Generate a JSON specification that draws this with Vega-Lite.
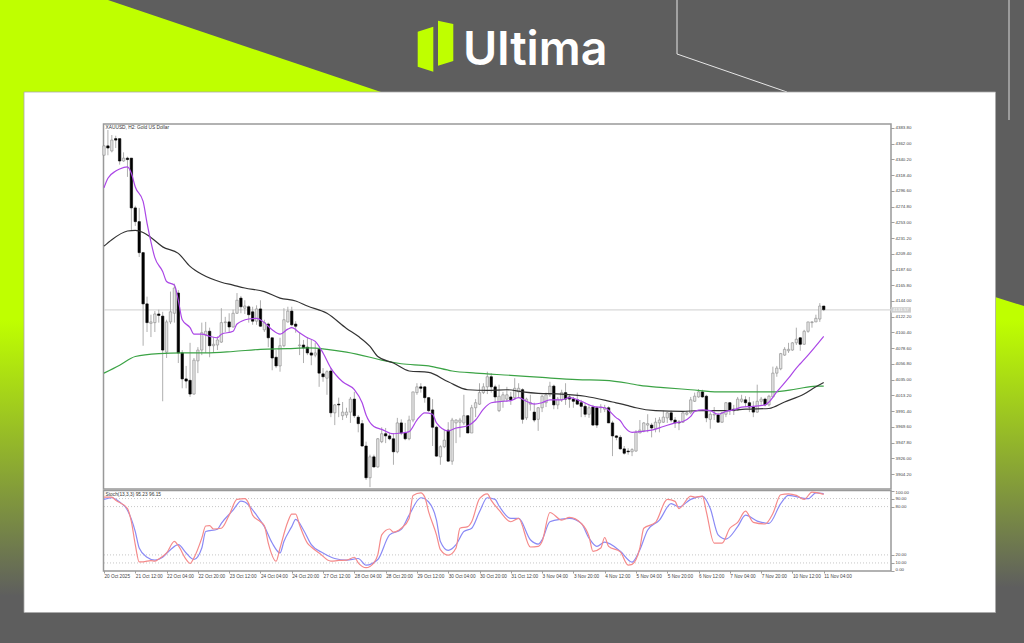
{"$schema":"https://vega.github.io/schema/vega-lite/v6.json","width":1024,"height":643,"autosize":{"type":"none"},"padding":0,"background":"#5e5e5e",
"config":{"view":{"stroke":null},"axis":{"title":null,"grid":false,"domain":false,"labelFont":"Liberation Sans","labelColor":"#444444","tickColor":"#777777","tickSize":3,"tickWidth":0.7}},
"datasets":{
"candles":[{"i":0,"o":4346,"h":4360,"l":4346,"c":4359},{"i":1,"o":4359,"h":4381,"l":4346,"c":4356},{"i":2,"o":4352,"h":4374,"l":4350,"c":4367},{"i":3,"o":4369,"h":4373,"l":4356,"c":4367},{"i":4,"o":4369,"h":4369,"l":4333,"c":4338},{"i":5,"o":4338,"h":4350,"l":4337,"c":4342},{"i":6,"o":4342,"h":4344,"l":4316,"c":4340},{"i":7,"o":4342,"h":4342,"l":4242,"c":4273},{"i":8,"o":4273,"h":4276,"l":4248,"c":4254},{"i":9,"o":4254,"h":4273,"l":4205,"c":4211},{"i":10,"o":4211,"h":4212,"l":4082,"c":4140},{"i":11,"o":4140,"h":4150,"l":4101,"c":4114},{"i":12,"o":4113,"h":4125,"l":4094,"c":4115},{"i":13,"o":4114,"h":4130,"l":4101,"c":4126},{"i":14,"o":4126,"h":4132,"l":4114,"c":4124},{"i":15,"o":4123,"h":4129,"l":4005,"c":4076},{"i":16,"o":4073,"h":4118,"l":4065,"c":4115},{"i":17,"o":4115,"h":4157,"l":4112,"c":4129},{"i":18,"o":4127,"h":4168,"l":4114,"c":4162},{"i":19,"o":4155,"h":4159,"l":4058,"c":4072},{"i":20,"o":4072,"h":4076,"l":4023,"c":4036},{"i":21,"o":4036,"h":4054,"l":4023,"c":4033},{"i":22,"o":4034,"h":4086,"l":4011,"c":4015},{"i":23,"o":4015,"h":4065,"l":4014,"c":4062},{"i":24,"o":4061,"h":4080,"l":4044,"c":4076},{"i":25,"o":4076,"h":4114,"l":4069,"c":4100},{"i":26,"o":4097,"h":4115,"l":4072,"c":4102},{"i":27,"o":4102,"h":4107,"l":4066,"c":4082},{"i":28,"o":4082,"h":4094,"l":4072,"c":4084},{"i":29,"o":4083,"h":4095,"l":4076,"c":4090},{"i":30,"o":4087,"h":4134,"l":4086,"c":4114},{"i":31,"o":4114,"h":4122,"l":4101,"c":4115},{"i":32,"o":4115,"h":4127,"l":4100,"c":4108},{"i":33,"o":4108,"h":4132,"l":4107,"c":4127},{"i":34,"o":4127,"h":4155,"l":4126,"c":4145},{"i":35,"o":4148,"h":4151,"l":4127,"c":4136},{"i":36,"o":4134,"h":4145,"l":4126,"c":4137},{"i":37,"o":4136,"h":4138,"l":4114,"c":4125},{"i":38,"o":4129,"h":4136,"l":4111,"c":4116},{"i":39,"o":4116,"h":4138,"l":4111,"c":4133},{"i":40,"o":4133,"h":4145,"l":4108,"c":4109},{"i":41,"o":4104,"h":4118,"l":4101,"c":4114},{"i":42,"o":4112,"h":4114,"l":4080,"c":4093},{"i":43,"o":4093,"h":4093,"l":4048,"c":4065},{"i":44,"o":4066,"h":4076,"l":4051,"c":4054},{"i":45,"o":4054,"h":4093,"l":4046,"c":4082},{"i":46,"o":4082,"h":4134,"l":4080,"c":4118},{"i":47,"o":4115,"h":4136,"l":4114,"c":4130},{"i":48,"o":4130,"h":4136,"l":4109,"c":4111},{"i":49,"o":4112,"h":4116,"l":4100,"c":4109},{"i":50,"o":4082,"h":4100,"l":4069,"c":4083},{"i":51,"o":4083,"h":4090,"l":4058,"c":4079},{"i":52,"o":4080,"h":4094,"l":4069,"c":4072},{"i":53,"o":4072,"h":4090,"l":4055,"c":4069},{"i":54,"o":4069,"h":4086,"l":4066,"c":4072},{"i":55,"o":4077,"h":4079,"l":4025,"c":4044},{"i":56,"o":4043,"h":4051,"l":4032,"c":4039},{"i":57,"o":4037,"h":4048,"l":4014,"c":4046},{"i":58,"o":4047,"h":4051,"l":3983,"c":3989},{"i":59,"o":3989,"h":4001,"l":3972,"c":4000},{"i":60,"o":4001,"h":4010,"l":3983,"c":4000},{"i":61,"o":3985,"h":4004,"l":3979,"c":3990},{"i":62,"o":3986,"h":3996,"l":3982,"c":3990},{"i":63,"o":3990,"h":4011,"l":3975,"c":4008},{"i":64,"o":4008,"h":4018,"l":3982,"c":3985},{"i":65,"o":3983,"h":3986,"l":3962,"c":3974},{"i":66,"o":3974,"h":3979,"l":3942,"c":3943},{"i":67,"o":3943,"h":3949,"l":3896,"c":3899},{"i":68,"o":3899,"h":3931,"l":3886,"c":3928},{"i":69,"o":3928,"h":3931,"l":3913,"c":3914},{"i":70,"o":3914,"h":3954,"l":3913,"c":3953},{"i":71,"o":3949,"h":3969,"l":3947,"c":3960},{"i":72,"o":3960,"h":3968,"l":3947,"c":3957},{"i":73,"o":3957,"h":3961,"l":3951,"c":3953},{"i":74,"o":3953,"h":3961,"l":3917,"c":3935},{"i":75,"o":3935,"h":3982,"l":3933,"c":3975},{"i":76,"o":3975,"h":3980,"l":3958,"c":3961},{"i":77,"o":3961,"h":3975,"l":3951,"c":3953},{"i":78,"o":3953,"h":3985,"l":3951,"c":3979},{"i":79,"o":3979,"h":4018,"l":3976,"c":4018},{"i":80,"o":4017,"h":4030,"l":4014,"c":4025},{"i":81,"o":4025,"h":4030,"l":4017,"c":4023},{"i":82,"o":4025,"h":4026,"l":4003,"c":4010},{"i":83,"o":4010,"h":4011,"l":3990,"c":3992},{"i":84,"o":3993,"h":4008,"l":3943,"c":3969},{"i":85,"o":3969,"h":3971,"l":3928,"c":3929},{"i":86,"o":3928,"h":3944,"l":3917,"c":3942},{"i":87,"o":3942,"h":3965,"l":3940,"c":3951},{"i":88,"o":3965,"h":3976,"l":3921,"c":3922},{"i":89,"o":3922,"h":3982,"l":3917,"c":3979},{"i":90,"o":3975,"h":3980,"l":3947,"c":3979},{"i":91,"o":3976,"h":3982,"l":3955,"c":3979},{"i":92,"o":3975,"h":4014,"l":3972,"c":3985},{"i":93,"o":3985,"h":3986,"l":3961,"c":3961},{"i":94,"o":3961,"h":4000,"l":3961,"c":3996},{"i":95,"o":3996,"h":4008,"l":3983,"c":4003},{"i":96,"o":4001,"h":4030,"l":4000,"c":4017},{"i":97,"o":4017,"h":4030,"l":4015,"c":4025},{"i":98,"o":4025,"h":4046,"l":4015,"c":4039},{"i":99,"o":4039,"h":4044,"l":4017,"c":4025},{"i":100,"o":4025,"h":4028,"l":4003,"c":4011},{"i":101,"o":3992,"h":4028,"l":3990,"c":4012},{"i":102,"o":4005,"h":4018,"l":3996,"c":4014},{"i":103,"o":4008,"h":4025,"l":4004,"c":4014},{"i":104,"o":4011,"h":4018,"l":4000,"c":4007},{"i":105,"o":4010,"h":4037,"l":4007,"c":4023},{"i":106,"o":4018,"h":4030,"l":4010,"c":4023},{"i":107,"o":4021,"h":4023,"l":3974,"c":3980},{"i":108,"o":3982,"h":4010,"l":3979,"c":4008},{"i":109,"o":4001,"h":4014,"l":3992,"c":4003},{"i":110,"o":3990,"h":4003,"l":3976,"c":3979},{"i":111,"o":3980,"h":3997,"l":3964,"c":3996},{"i":112,"o":3996,"h":4014,"l":3990,"c":4012},{"i":113,"o":4003,"h":4017,"l":3997,"c":4014},{"i":114,"o":4014,"h":4032,"l":4011,"c":4026},{"i":115,"o":4026,"h":4028,"l":3994,"c":4000},{"i":116,"o":4000,"h":4011,"l":3994,"c":4008},{"i":117,"o":4007,"h":4021,"l":4004,"c":4017},{"i":118,"o":4017,"h":4030,"l":4000,"c":4008},{"i":119,"o":4011,"h":4014,"l":3996,"c":4008},{"i":120,"o":4008,"h":4011,"l":3996,"c":4005},{"i":121,"o":4007,"h":4017,"l":4000,"c":4001},{"i":122,"o":4003,"h":4007,"l":3983,"c":3998},{"i":123,"o":3998,"h":4003,"l":3983,"c":3987},{"i":124,"o":3987,"h":4000,"l":3982,"c":3996},{"i":125,"o":3997,"h":4000,"l":3971,"c":3972},{"i":126,"o":3996,"h":3998,"l":3968,"c":3972},{"i":127,"o":3996,"h":4001,"l":3989,"c":3997},{"i":128,"o":3994,"h":4000,"l":3990,"c":3996},{"i":129,"o":3996,"h":3998,"l":3975,"c":3975},{"i":130,"o":3975,"h":3978,"l":3929,"c":3957},{"i":131,"o":3957,"h":3958,"l":3951,"c":3955},{"i":132,"o":3955,"h":3958,"l":3938,"c":3939},{"i":133,"o":3939,"h":3943,"l":3931,"c":3933},{"i":134,"o":3936,"h":3940,"l":3931,"c":3935},{"i":135,"o":3935,"h":3940,"l":3929,"c":3938},{"i":136,"o":3936,"h":3965,"l":3935,"c":3962},{"i":137,"o":3961,"h":3979,"l":3961,"c":3965},{"i":138,"o":3964,"h":3976,"l":3962,"c":3975},{"i":139,"o":3972,"h":3987,"l":3962,"c":3974},{"i":140,"o":3972,"h":3975,"l":3955,"c":3968},{"i":141,"o":3967,"h":3982,"l":3962,"c":3976},{"i":142,"o":3975,"h":3983,"l":3962,"c":3979},{"i":143,"o":3976,"h":3992,"l":3975,"c":3983},{"i":144,"o":3982,"h":3990,"l":3975,"c":3989},{"i":145,"o":3989,"h":3992,"l":3976,"c":3979},{"i":146,"o":3979,"h":3983,"l":3968,"c":3975},{"i":147,"o":3976,"h":3979,"l":3965,"c":3975},{"i":148,"o":3976,"h":3990,"l":3975,"c":3989},{"i":149,"o":3987,"h":3992,"l":3985,"c":3989},{"i":150,"o":3989,"h":4011,"l":3987,"c":4007},{"i":151,"o":4005,"h":4017,"l":4004,"c":4012},{"i":152,"o":4011,"h":4022,"l":4010,"c":4018},{"i":153,"o":4018,"h":4021,"l":4010,"c":4011},{"i":154,"o":4012,"h":4014,"l":3976,"c":3982},{"i":155,"o":3980,"h":3990,"l":3967,"c":3987},{"i":156,"o":3986,"h":3997,"l":3979,"c":3987},{"i":157,"o":3986,"h":3989,"l":3975,"c":3976},{"i":158,"o":3976,"h":3990,"l":3975,"c":3989},{"i":159,"o":3987,"h":4004,"l":3983,"c":4003},{"i":160,"o":4003,"h":4004,"l":3986,"c":3992},{"i":161,"o":3994,"h":4000,"l":3986,"c":3992},{"i":162,"o":3993,"h":4011,"l":3992,"c":4008},{"i":163,"o":4005,"h":4014,"l":4003,"c":4008},{"i":164,"o":4007,"h":4012,"l":3997,"c":4003},{"i":165,"o":4003,"h":4011,"l":3990,"c":3997},{"i":166,"o":3997,"h":4005,"l":3983,"c":3990},{"i":167,"o":3990,"h":4028,"l":3989,"c":4005},{"i":168,"o":4005,"h":4011,"l":4000,"c":4008},{"i":169,"o":4008,"h":4010,"l":3998,"c":4000},{"i":170,"o":4000,"h":4014,"l":3998,"c":4012},{"i":171,"o":4011,"h":4053,"l":4011,"c":4044},{"i":172,"o":4044,"h":4054,"l":4039,"c":4051},{"i":173,"o":4050,"h":4072,"l":4048,"c":4071},{"i":174,"o":4069,"h":4080,"l":4068,"c":4077},{"i":175,"o":4075,"h":4086,"l":4072,"c":4077},{"i":176,"o":4076,"h":4087,"l":4075,"c":4086},{"i":177,"o":4086,"h":4107,"l":4083,"c":4091},{"i":178,"o":4093,"h":4094,"l":4075,"c":4084},{"i":179,"o":4084,"h":4104,"l":4083,"c":4102},{"i":180,"o":4102,"h":4115,"l":4100,"c":4115},{"i":181,"o":4114,"h":4116,"l":4107,"c":4115},{"i":182,"o":4115,"h":4125,"l":4115,"c":4120},{"i":183,"o":4119,"h":4141,"l":4115,"c":4137},{"i":184,"o":4137,"h":4137,"l":4130,"c":4132}],
"fast":[{"i":0,"v":4301},{"i":1,"v":4314},{"i":3,"v":4324},{"i":4,"v":4327},{"i":6,"v":4330},{"i":7,"v":4321},{"i":8,"v":4302},{"i":10,"v":4282},{"i":11,"v":4252},{"i":12,"v":4226},{"i":13,"v":4204},{"i":15,"v":4185},{"i":16,"v":4171},{"i":18,"v":4166},{"i":19,"v":4145},{"i":20,"v":4118},{"i":22,"v":4107},{"i":23,"v":4098},{"i":25,"v":4098},{"i":27,"v":4095},{"i":29,"v":4093},{"i":30,"v":4098},{"i":33,"v":4102},{"i":34,"v":4112},{"i":37,"v":4119},{"i":39,"v":4120},{"i":41,"v":4114},{"i":43,"v":4104},{"i":45,"v":4098},{"i":47,"v":4105},{"i":48,"v":4107},{"i":50,"v":4100},{"i":52,"v":4093},{"i":54,"v":4088},{"i":56,"v":4072},{"i":58,"v":4051},{"i":61,"v":4032},{"i":64,"v":4021},{"i":66,"v":4003},{"i":67,"v":3986},{"i":69,"v":3970},{"i":71,"v":3966},{"i":74,"v":3960},{"i":76,"v":3961},{"i":78,"v":3963},{"i":80,"v":3979},{"i":82,"v":3989},{"i":84,"v":3987},{"i":85,"v":3975},{"i":88,"v":3964},{"i":90,"v":3968},{"i":93,"v":3971},{"i":95,"v":3979},{"i":97,"v":3994},{"i":99,"v":4003},{"i":102,"v":4005},{"i":104,"v":4006},{"i":106,"v":4010},{"i":108,"v":4005},{"i":110,"v":4001},{"i":112,"v":4003},{"i":114,"v":4007},{"i":117,"v":4007},{"i":119,"v":4010},{"i":122,"v":4005},{"i":125,"v":3998},{"i":128,"v":3996},{"i":131,"v":3982},{"i":132,"v":3978},{"i":133,"v":3970},{"i":135,"v":3962},{"i":137,"v":3963},{"i":140,"v":3965},{"i":143,"v":3970},{"i":146,"v":3975},{"i":148,"v":3977},{"i":150,"v":3984},{"i":151,"v":3991},{"i":153,"v":3993},{"i":155,"v":3992},{"i":157,"v":3987},{"i":159,"v":3991},{"i":161,"v":3993},{"i":163,"v":3997},{"i":166,"v":3998},{"i":169,"v":4000},{"i":170,"v":4004},{"i":172,"v":4018},{"i":175,"v":4037},{"i":177,"v":4051},{"i":178,"v":4057},{"i":180,"v":4069},{"i":184,"v":4095}],
"mid":[{"i":0,"v":4220},{"i":2,"v":4229},{"i":6,"v":4241},{"i":8,"v":4242},{"i":10,"v":4239},{"i":12,"v":4232},{"i":15,"v":4219},{"i":19,"v":4210},{"i":22,"v":4192},{"i":25,"v":4181},{"i":30,"v":4170},{"i":33,"v":4166},{"i":36,"v":4162},{"i":41,"v":4157},{"i":45,"v":4148},{"i":49,"v":4144},{"i":52,"v":4137},{"i":57,"v":4127},{"i":62,"v":4106},{"i":65,"v":4095},{"i":68,"v":4081},{"i":70,"v":4067},{"i":74,"v":4058},{"i":78,"v":4047},{"i":83,"v":4045},{"i":88,"v":4032},{"i":93,"v":4021},{"i":98,"v":4020},{"i":103,"v":4021},{"i":107,"v":4018},{"i":111,"v":4016},{"i":117,"v":4015},{"i":123,"v":4012},{"i":130,"v":4004},{"i":134,"v":3999},{"i":136,"v":3996},{"i":141,"v":3992},{"i":148,"v":3991},{"i":152,"v":3992},{"i":159,"v":3992},{"i":164,"v":3994},{"i":170,"v":3995},{"i":174,"v":4004},{"i":179,"v":4015},{"i":182,"v":4025},{"i":184,"v":4031}],
"slow":[{"i":0,"v":4044},{"i":4,"v":4055},{"i":8,"v":4067},{"i":14,"v":4071},{"i":20,"v":4072},{"i":26,"v":4072},{"i":33,"v":4074},{"i":40,"v":4077},{"i":47,"v":4078},{"i":52,"v":4079},{"i":57,"v":4077},{"i":62,"v":4073},{"i":68,"v":4066},{"i":71,"v":4062},{"i":76,"v":4057},{"i":83,"v":4054},{"i":89,"v":4047},{"i":95,"v":4044},{"i":104,"v":4041},{"i":112,"v":4038},{"i":121,"v":4035},{"i":128,"v":4034},{"i":134,"v":4030},{"i":137,"v":4027},{"i":143,"v":4024},{"i":150,"v":4021},{"i":157,"v":4018},{"i":164,"v":4018},{"i":171,"v":4018},{"i":177,"v":4022},{"i":182,"v":4026},{"i":184,"v":4026}],
"stochMain":[{"i":0,"v":91.8},{"i":2,"v":91.8},{"i":3,"v":87.8},{"i":6,"v":77.6},{"i":7,"v":61.2},{"i":8,"v":32.7},{"i":9,"v":11.4},{"i":10,"v":11.4},{"i":12,"v":13},{"i":13,"v":12.2},{"i":14,"v":15},{"i":16,"v":22.4},{"i":18,"v":36.7},{"i":19,"v":31.4},{"i":21,"v":14.3},{"i":22,"v":9.4},{"i":23,"v":16.3},{"i":25,"v":40.8},{"i":26,"v":55.9},{"i":27,"v":56.3},{"i":28,"v":52.2},{"i":30,"v":53.1},{"i":32,"v":69.4},{"i":34,"v":89},{"i":36,"v":89.8},{"i":37,"v":83.7},{"i":38,"v":69.4},{"i":40,"v":61.2},{"i":41,"v":56.3},{"i":42,"v":34.7},{"i":44,"v":12.2},{"i":45,"v":28.6},{"i":47,"v":61.2},{"i":48,"v":70.6},{"i":49,"v":70.6},{"i":50,"v":57.1},{"i":52,"v":34.7},{"i":53,"v":29.8},{"i":55,"v":22.4},{"i":58,"v":12.2},{"i":60,"v":13.1},{"i":62,"v":13.5},{"i":64,"v":17.1},{"i":65,"v":10.2},{"i":67,"v":4.1},{"i":69,"v":10.2},{"i":70,"v":20.4},{"i":71,"v":44.9},{"i":73,"v":52.2},{"i":74,"v":48.2},{"i":76,"v":53.1},{"i":78,"v":65.3},{"i":79,"v":93.9},{"i":81,"v":97.1},{"i":82,"v":91.8},{"i":83,"v":73.5},{"i":85,"v":44.9},{"i":86,"v":26.5},{"i":88,"v":19.6},{"i":90,"v":28.6},{"i":91,"v":53.1},{"i":93,"v":55.1},{"i":94,"v":61.2},{"i":96,"v":89.8},{"i":98,"v":95.9},{"i":99,"v":87.8},{"i":101,"v":75.5},{"i":104,"v":61.2},{"i":106,"v":65.3},{"i":109,"v":29.8},{"i":111,"v":30.6},{"i":112,"v":36.7},{"i":114,"v":72.7},{"i":117,"v":63.3},{"i":119,"v":66.5},{"i":122,"v":59.2},{"i":124,"v":42.9},{"i":125,"v":24.5},{"i":127,"v":28.6},{"i":128,"v":41.6},{"i":129,"v":30.6},{"i":132,"v":23.7},{"i":134,"v":7.3},{"i":135,"v":8.2},{"i":137,"v":28.6},{"i":138,"v":53.1},{"i":141,"v":60.4},{"i":144,"v":89},{"i":146,"v":86.5},{"i":147,"v":77.6},{"i":150,"v":93.1},{"i":151,"v":91.8},{"i":153,"v":93.1},{"i":154,"v":73.5},{"i":156,"v":34.7},{"i":158,"v":34.7},{"i":160,"v":53.1},{"i":162,"v":60.4},{"i":164,"v":74.3},{"i":166,"v":60.4},{"i":169,"v":58.4},{"i":171,"v":71.4},{"i":173,"v":94.7},{"i":175,"v":95.9},{"i":177,"v":93.9},{"i":179,"v":89},{"i":181,"v":98},{"i":184,"v":95.23}],
"stochSignal":[{"i":0,"v":89},{"i":2,"v":91},{"i":4,"v":85.7},{"i":6,"v":75.5},{"i":8,"v":49},{"i":9,"v":28.6},{"i":11,"v":17.1},{"i":13,"v":13.5},{"i":15,"v":17.1},{"i":17,"v":26.5},{"i":19,"v":32.7},{"i":21,"v":22.4},{"i":23,"v":14.3},{"i":25,"v":28.6},{"i":26,"v":49},{"i":29,"v":51.8},{"i":30,"v":59.2},{"i":33,"v":75.5},{"i":35,"v":86.9},{"i":36,"v":85.7},{"i":39,"v":69.4},{"i":41,"v":55.1},{"i":43,"v":34.7},{"i":45,"v":22.4},{"i":46,"v":36.7},{"i":48,"v":55.1},{"i":49,"v":64.1},{"i":51,"v":51},{"i":53,"v":32.7},{"i":56,"v":22.4},{"i":59,"v":15.5},{"i":62,"v":13.5},{"i":65,"v":15.5},{"i":67,"v":7.3},{"i":70,"v":14.3},{"i":73,"v":44.9},{"i":76,"v":51.8},{"i":78,"v":69.4},{"i":81,"v":91},{"i":83,"v":85.7},{"i":85,"v":63.3},{"i":86,"v":36.7},{"i":88,"v":25.7},{"i":90,"v":32.7},{"i":92,"v":49},{"i":94,"v":53.1},{"i":96,"v":73.5},{"i":98,"v":91},{"i":100,"v":89},{"i":101,"v":80.8},{"i":104,"v":65.3},{"i":106,"v":65.3},{"i":109,"v":38.8},{"i":111,"v":33.5},{"i":112,"v":38.8},{"i":114,"v":61.2},{"i":117,"v":64.5},{"i":119,"v":65.3},{"i":122,"v":59.2},{"i":124,"v":40.8},{"i":126,"v":30.6},{"i":128,"v":35.9},{"i":132,"v":24.5},{"i":135,"v":11},{"i":137,"v":26.5},{"i":139,"v":51},{"i":142,"v":63.3},{"i":145,"v":83.7},{"i":147,"v":79.6},{"i":150,"v":89},{"i":153,"v":92.7},{"i":155,"v":77.6},{"i":157,"v":44.9},{"i":159,"v":39.6},{"i":162,"v":55.1},{"i":164,"v":69.4},{"i":167,"v":62},{"i":170,"v":59.2},{"i":173,"v":83.7},{"i":175,"v":93.9},{"i":180,"v":89.8},{"i":182,"v":97.1},{"i":184,"v":96.15}]
},
"layer":[
{"encoding":{"x":{"field":"x","type":"quantitative","axis":null,"scale":{"domain":[0,1024],"range":[0,1024],"nice":false,"zero":false}},"y":{"field":"y","type":"quantitative","axis":null,"scale":{"domain":[0,643],"range":[0,643],"nice":false,"zero":false}}},
"layer":[
{"data":{"values":[{"x":0,"y":0,"y2":92},{"x":108,"y":0,"y2":92},{"x":381,"y":92,"y2":92}]},"mark":{"type":"area","color":"#bfff00"},"encoding":{"y2":{"field":"y2"}}},
{"data":{"values":[{"x":0,"x2":24,"y":92,"y2":643}]},"mark":{"type":"rect","fill":{"x1":0,"y1":0,"x2":0,"y2":1,"gradient":"linear","stops":[{"offset":0,"color":"#bfff00"},{"offset":0.414,"color":"#bfff00"},{"offset":0.915,"color":"#5e5e5e"},{"offset":1,"color":"#5e5e5e"}]}},"encoding":{"x2":{"field":"x2"},"y2":{"field":"y2"}}},
{"data":{"values":[{"x":995,"y":297,"y2":643},{"x":1024,"y":306,"y2":643}]},"mark":{"type":"area","fill":{"x1":0,"y1":0,"x2":0,"y2":1,"gradient":"linear","stops":[{"offset":0,"color":"#bfff00"},{"offset":0.066,"color":"#bfff00"},{"offset":0.84,"color":"#5e5e5e"},{"offset":1,"color":"#5e5e5e"}]}},"encoding":{"y2":{"field":"y2"}}},
{"data":{"values":[{"x":677,"y":0},{"x":677,"y":54},{"x":787,"y":92}]},"mark":{"type":"line","color":"#e6e6e6","strokeWidth":1},"encoding":{"order":{"field":"y"}}},
{"data":{"values":[{"x":1009,"y":0,"y2":120}]},"mark":{"type":"rule","color":"#d8d8d8","strokeWidth":1},"encoding":{"y2":{"field":"y2"}}},
{"data":{"values":[{"x":24,"x2":995.5,"y":92,"y2":612.5}]},"mark":{"type":"rect","fill":"#ffffff","stroke":"#aaaaaa","strokeWidth":0.8},"encoding":{"x2":{"field":"x2"},"y2":{"field":"y2"}}},
{"data":{"values":[{"x":417.7,"y":31.7,"y2":66.7},{"x":433.3,"y":26.7,"y2":71.7}]},"mark":{"type":"area","color":"#bfff00"},"encoding":{"y2":{"field":"y2"}}},
{"data":{"values":[{"x":438,"y":20.7,"y2":65.7},{"x":453.3,"y":24,"y2":61}]},"mark":{"type":"area","color":"#bfff00"},"encoding":{"y2":{"field":"y2"}}},
{"data":{"values":[{"x":463,"y":65,"label":"Ultima"}]},"mark":{"type":"text","font":"Inter","fontWeight":600,"fontSize":46.6,"color":"#ffffff","align":"left","baseline":"alphabetic"},"encoding":{"text":{"field":"label"}}},
{"data":{"values":[{"x":103.5,"x2":891,"y":124,"y2":489},{"x":103.5,"x2":891,"y":490.5,"y2":571}]},"mark":{"type":"rect","fillOpacity":0,"stroke":"#999999","strokeWidth":1.5},"encoding":{"x2":{"field":"x2"},"y2":{"field":"y2"}}}
]},
{"encoding":{"x":{"field":"i","type":"quantitative","axis":null,"scale":{"domain":[0,201.2],"range":[104,891],"nice":false,"zero":false,"padding":0}},"y":{"type":"quantitative","scale":{"domain":[3884.8,4389.3],"range":[488,124],"nice":false,"zero":false}}},
"layer":[
{"data":{"values":[{"a":0,"b":201.2,"level":4131.6}]},"mark":{"type":"rule","color":"#d8d8d8","strokeWidth":1.2},"encoding":{"x":{"field":"a","type":"quantitative"},"x2":{"field":"b"},"y":{"field":"level","type":"quantitative","axis":{"orient":"right","offset":-133,"zindex":1,"tickCount":40,"labelOverlap":false,"labelFontSize":4.4,"labelPadding":1,"format":".2f","values":[4383.8,4362,4340.2,4318.4,4296.6,4274.8,4253,4231.2,4209.4,4187.6,4165.8,4144,4122.2,4100.4,4078.6,4056.8,4035,4013.2,3991.4,3969.6,3947.8,3926,3904.2]}}}},
{"data":{"name":"candles"},"mark":{"type":"rule","color":"#a6a6a6","strokeWidth":0.9},"encoding":{"y":{"field":"h","type":"quantitative"},"y2":{"field":"l"}}},
{"data":{"name":"candles"},"mark":{"type":"bar","size":2.4,"strokeWidth":0.6},"encoding":{"y":{"field":"o","type":"quantitative"},"y2":{"field":"c"},"color":{"condition":{"test":"datum.c>=datum.o","value":"#e4e4e4"},"value":"#000000"},"stroke":{"condition":{"test":"datum.c>=datum.o","value":"#8a8a8a"},"value":"#000000"}}},
{"data":{"name":"slow"},"mark":{"type":"line","color":"#3ba345","strokeWidth":1.2,"interpolate":"monotone"},"encoding":{"y":{"field":"v","type":"quantitative"}}},
{"data":{"name":"mid"},"mark":{"type":"line","color":"#333333","strokeWidth":1.2,"interpolate":"monotone"},"encoding":{"y":{"field":"v","type":"quantitative"}}},
{"data":{"name":"fast"},"mark":{"type":"line","color":"#ab47e6","strokeWidth":1.2,"interpolate":"monotone"},"encoding":{"y":{"field":"v","type":"quantitative"}}},
{"data":{"values":[{"a":201.2,"b":206.3,"top":4135.4,"bottom":4127.8}]},"mark":{"type":"rect","color":"#cfcfcf"},"encoding":{"x":{"field":"a","type":"quantitative"},"x2":{"field":"b"},"y":{"field":"top","type":"quantitative"},"y2":{"field":"bottom"}}},
{"data":{"values":[{"a":203.7,"mid":4131.6,"label":"4131.57"}]},"mark":{"type":"text","color":"#ffffff","fontSize":4.4,"font":"Liberation Sans"},"encoding":{"x":{"field":"a","type":"quantitative"},"y":{"field":"mid","type":"quantitative"},"text":{"field":"label"}}},
{"data":{"values":[{"a":0.4,"p":4384,"label":"XAUUSD, H2:  Gold US Dollar"}]},"mark":{"type":"text","align":"left","color":"#333333","fontSize":4.8,"font":"Liberation Sans"},"encoding":{"x":{"field":"a","type":"quantitative"},"y":{"field":"p","type":"quantitative"},"text":{"field":"label"}}}
]},
{"encoding":{"x":{"field":"i","type":"quantitative","scale":{"domain":[0,201.2],"range":[104,891],"nice":false,"zero":false,"padding":0},"axis":{"orient":"bottom","offset":-72,"zindex":1,"tickCount":40,"labelOverlap":false,"labelFontSize":4.7,"labelAlign":"left","labelPadding":0,"tickSize":2,"values":[0,8,16,24,32,40,48,56,64,72,80,88,96,104,112,120,128,136,144,152,160,168,176,184],"labelExpr":"['20 Oct 2025','21 Oct 12:00','22 Oct 04:00','22 Oct 20:00','23 Oct 12:00','24 Oct 04:00','24 Oct 20:00','27 Oct 12:00','28 Oct 04:00','28 Oct 20:00','29 Oct 12:00','30 Oct 04:00','30 Oct 20:00','31 Oct 12:00','3 Nov 04:00','3 Nov 20:00','4 Nov 12:00','5 Nov 04:00','5 Nov 20:00','6 Nov 12:00','7 Nov 04:00','7 Nov 20:00','10 Nov 12:00','11 Nov 04:00'][datum.value/8]"}},"y":{"type":"quantitative","scale":{"domain":[0,100],"range":[571,490.5],"nice":false,"zero":false}}},
"layer":[
{"data":{"values":[{"a":0,"b":201.2,"level":10},{"a":0,"b":201.2,"level":20},{"a":0,"b":201.2,"level":80},{"a":0,"b":201.2,"level":90}]},"mark":{"type":"rule","color":"#b8b8b8","strokeWidth":0.8,"strokeDash":[1,2]},"encoding":{"x":{"field":"a","type":"quantitative"},"x2":{"field":"b"},"y":{"field":"level","type":"quantitative","axis":{"orient":"right","offset":-133,"zindex":1,"labelOverlap":false,"labelFontSize":4.4,"labelPadding":1,"format":".2f","labelFlush":true,"values":[0,10,20,80,90,100]}}}},
{"data":{"name":"stochSignal"},"mark":{"type":"line","color":"#8a8af5","strokeWidth":1.2,"interpolate":"monotone"},"encoding":{"y":{"field":"v","type":"quantitative"}}},
{"data":{"name":"stochMain"},"mark":{"type":"line","color":"#f58a8a","strokeWidth":1.2,"interpolate":"monotone"},"encoding":{"y":{"field":"v","type":"quantitative"}}},
{"data":{"values":[{"a":0.4,"p":94.5,"label":"Stoch(13,3,3) 95.23 96.15"}]},"mark":{"type":"text","align":"left","color":"#333333","fontSize":4.8,"font":"Liberation Sans"},"encoding":{"x":{"field":"a","type":"quantitative"},"y":{"field":"p","type":"quantitative"},"text":{"field":"label"}}}
]}
],
"resolve":{"scale":{"x":"independent","y":"independent"}}}
